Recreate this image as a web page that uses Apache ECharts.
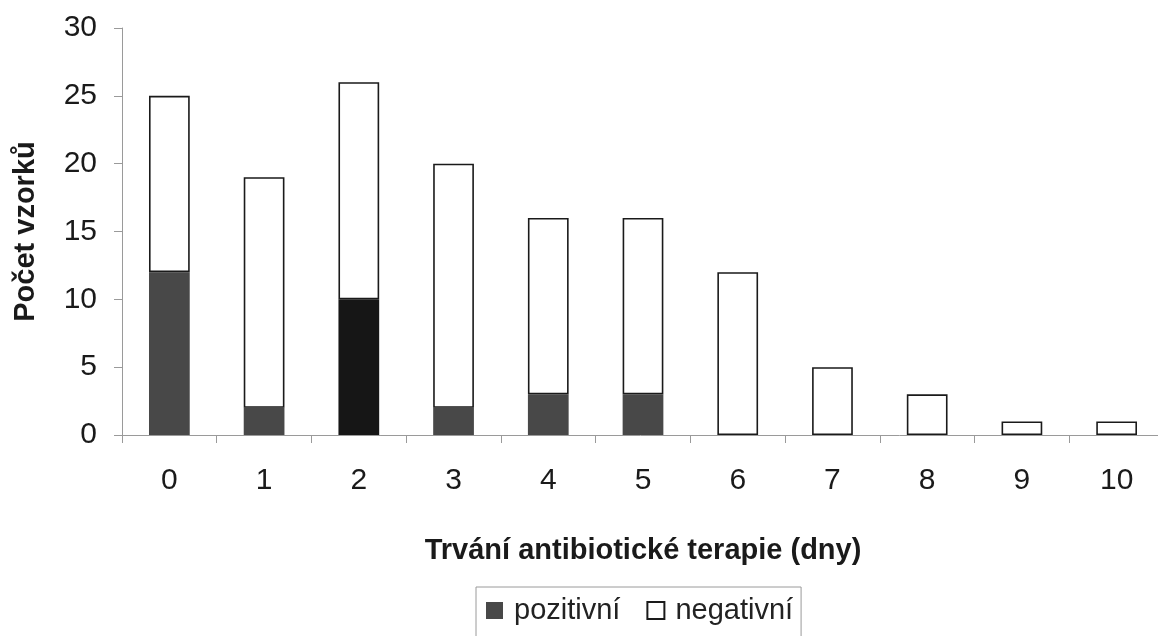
<!DOCTYPE html>
<html>
<head>
<meta charset="utf-8">
<script src="https://cdn.jsdelivr.net/npm/echarts@6/dist/echarts.min.js"></script>
<style>
  html, body { margin: 0; padding: 0; background: #fff; }
  #chart { width: 1158px; height: 636px; }
</style>
</head>
<body>
<div id="chart"></div>
<script>
// Duration of antibiotic therapy (days)
const days = ['0', '1', '2', '3', '4', '5', '6', '7', '8', '9', '10'];
// Number of positive samples per day
const positive = [12, 2, 10, 2, 3, 3, 0, 0, 0, 0, 0];
// Number of negative samples per day
const negative = [13, 17, 16, 18, 13, 13, 12, 5, 3, 1, 1];
const yTicks = { min: 0, max: 30, step: 5 };

const FONT = '"Liberation Sans", Arial, sans-serif';
const POS_COLOR = '#484848';
const POS_DARK = '#161616';

const chart = echarts.init(document.getElementById('chart'), null, { renderer: 'canvas' });

chart.setOption({
  animation: false,
  backgroundColor: '#ffffff',
  textStyle: { fontFamily: FONT },
  grid: {
    left: 122, top: 28, bottom: 201, width: 1042,
    containLabel: false, outerBoundsMode: 'none'
  },
  legend: {
    left: 476,
    top: 587,
    data: ['pozitivní', 'negativní'],
    icon: 'rect',
    itemWidth: 17,
    itemHeight: 17,
    itemGap: 26,
    padding: [9, 8, 24, 10],
    borderColor: '#9a9a9a',
    borderWidth: 1,
    textStyle: { fontFamily: FONT, fontSize: 29, color: '#222', padding: [0, 0, 0, 6] }
  },
  xAxis: {
    type: 'category',
    data: days,
    name: 'Trvání antibiotické terapie (dny)',
    nameLocation: 'middle',
    nameGap: 101,
    nameTextStyle: { fontFamily: FONT, fontSize: 29, fontWeight: 'bold', color: '#1a1a1a' },
    axisLine: { lineStyle: { color: '#9a9a9a', width: 1 } },
    axisTick: { show: true, length: 8, lineStyle: { color: '#9a9a9a' } },
    axisLabel: { fontFamily: FONT, fontSize: 30, color: '#1a1a1a', margin: 31 }
  },
  yAxis: {
    type: 'value',
    min: yTicks.min,
    max: yTicks.max,
    interval: yTicks.step,
    name: 'Počet vzorků',
    nameLocation: 'middle',
    nameGap: 82,
    nameRotate: 90,
    nameTextStyle: { fontFamily: FONT, fontSize: 29, fontWeight: 'bold', color: '#1a1a1a' },
    axisLine: { show: true, lineStyle: { color: '#9a9a9a', width: 1 } },
    axisTick: { show: true, length: 8, lineStyle: { color: '#9a9a9a' } },
    axisLabel: { fontFamily: FONT, fontSize: 30, color: '#1a1a1a', margin: 25 },
    splitLine: { show: false }
  },
  series: [
    {
      name: 'pozitivní',
      type: 'bar',
      stack: 'vzorky',
      barWidth: '43%',
      itemStyle: { color: POS_COLOR },
      data: positive.map((v, i) => ({
        value: v,
        itemStyle: { color: i === 2 ? POS_DARK : POS_COLOR }
      }))
    },
    {
      name: 'negativní',
      type: 'bar',
      stack: 'vzorky',
      barWidth: '43%',
      itemStyle: { color: '#ffffff', borderColor: '#1a1a1a', borderWidth: 1.6 },
      data: negative
    }
  ]
});
</script>
</body>
</html>
